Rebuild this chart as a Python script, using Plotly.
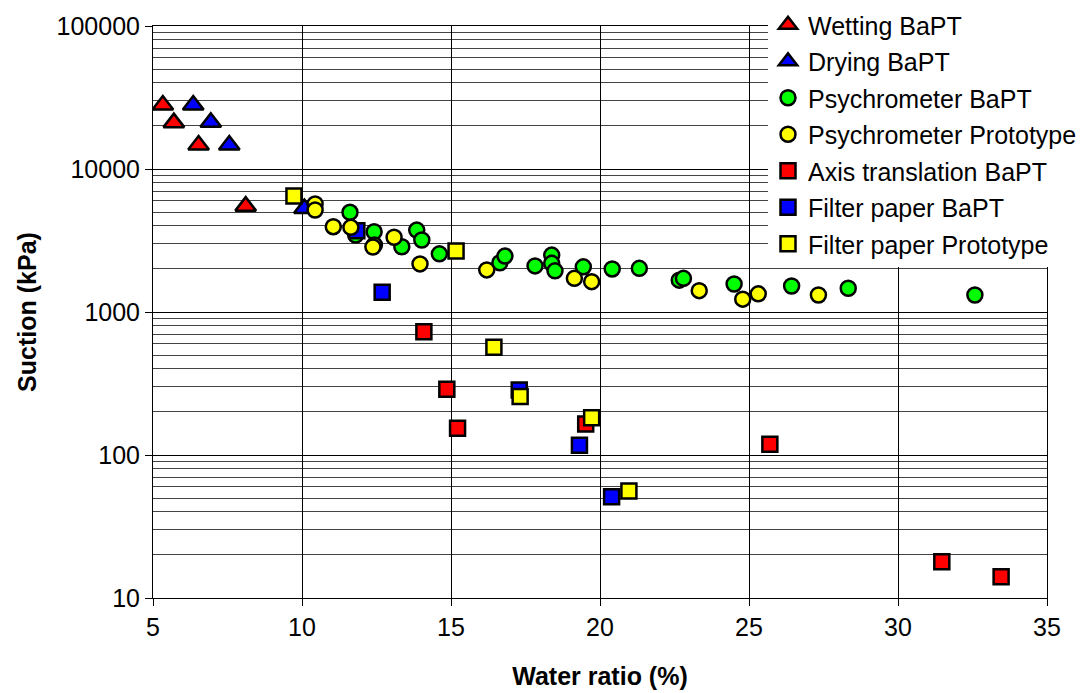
import plotly.graph_objects as go

# Suction (kPa) against water ratio (%) for each measurement method

wetting_x = [5.33, 5.70, 6.53, 8.11]
wetting_y = [28000, 21100, 14700, 5500]

drying_x = [6.35, 6.94, 7.56, 10.08]
drying_y = [28000, 21200, 14700, 5300]

psy_bapt_x = [11.61, 11.80, 12.42, 13.35, 13.85, 14.02, 14.61, 16.64, 16.81,
              17.82, 18.38, 18.38, 18.49, 19.44, 20.41, 21.32, 22.66, 22.80,
              24.50, 26.43, 28.33, 32.58]
psy_bapt_y = [4980, 3450, 3640, 2860, 3740, 3190, 2550, 2210, 2460,
              2100, 2500, 2190, 1940, 2070, 2000, 2020, 1670, 1720,
              1570, 1520, 1465, 1315]

psy_proto_x = [10.44, 10.44, 11.05, 11.64, 12.43, 12.38, 13.09, 13.96, 16.20,
               19.14, 19.72, 23.33, 24.79, 25.31, 27.33]
psy_proto_y = [5690, 5170, 3950, 3910, 2940, 2850, 3330, 2170, 1970,
               1720, 1630, 1410, 1230, 1340, 1315]

axis_x = [14.09, 14.86, 15.22, 19.52, 25.70, 31.47, 33.46]
axis_y = [728, 288, 154, 165, 119, 17.9, 14.1]

fp_bapt_x = [11.84, 12.69, 17.29, 19.31, 20.39]
fp_bapt_y = [3700, 1374, 285, 117, 51]

fp_proto_x = [9.73, 15.17, 16.44, 17.32, 19.72, 20.97]
fp_proto_y = [6480, 2670, 566, 256, 182, 56]

y_tick_vals = [10, 100, 1000, 10000, 100000]
y_tick_text = ["10", "100", "1000", "10000", "100000"]
x_tick_vals = [5, 10, 15, 20, 25, 30, 35]

FONT = "Liberation Sans, Arial, sans-serif"
OUTLINE = dict(color="black", width=2.5)

# (name, x, y, symbol, colour, size, legend position); listed in drawing order
series = [
    ("Wetting BaPT", wetting_x, wetting_y, "triangle-up", "#ff0000", 18, 1),
    ("Drying BaPT", drying_x, drying_y, "triangle-up", "#0000ff", 18, 2),
    ("Psychrometer BaPT", psy_bapt_x, psy_bapt_y, "circle", "#00ff00", 15, 3),
    ("Axis translation BaPT", axis_x, axis_y, "square", "#ff0000", 15, 5),
    ("Filter paper BaPT", fp_bapt_x, fp_bapt_y, "square", "#0000ff", 15, 6),
    ("Psychrometer Prototype", psy_proto_x, psy_proto_y, "circle", "#ffff00", 15, 4),
    ("Filter paper Prototype", fp_proto_x, fp_proto_y, "square", "#ffff00", 15, 7),
]

fig = go.Figure()
for name, xs, ys, sym, col, size, rank in series:
    fig.add_trace(go.Scatter(
        x=xs, y=ys, mode="markers", name=name,
        legendgroup=name, legendrank=rank,
        marker=dict(symbol=sym, color=col, size=size, line=OUTLINE),
    ))

fig.update_layout(
    width=1088, height=693,
    margin=dict(l=153, r=41, t=26, b=95, autoexpand=False),
    paper_bgcolor="white", plot_bgcolor="white",
    font=dict(family=FONT, size=25, color="black"),
    legend=dict(
        x=768 / 1088, xref="container", xanchor="left",
        y=1 - 2 / 693, yref="container", yanchor="top",
        bgcolor="white", borderwidth=0,
        font=dict(size=25, family=FONT),
        tracegroupgap=1,
        itemsizing="trace",
    ),
    showlegend=True,
)

fig.update_xaxes(
    range=[5, 35], tickvals=x_tick_vals,
    showgrid=True, gridcolor="black", gridwidth=1,
    showline=True, linecolor="black", linewidth=1, mirror=True,
    ticks="outside", ticklen=7, tickcolor="black",
    zeroline=False,
    title=dict(text="<b>Water ratio (%)</b>", font=dict(size=25), standoff=27),
)

fig.update_yaxes(
    type="log", range=[1, 5],
    tickvals=y_tick_vals, ticktext=y_tick_text,
    showgrid=True, gridcolor="black", gridwidth=1,
    minor=dict(dtick="D1", showgrid=True, gridcolor="#444444", gridwidth=1, ticks=""),
    showline=True, linecolor="black", linewidth=1, mirror=True,
    ticks="outside", ticklen=7, tickcolor="black",
    zeroline=False,
    title=dict(text="<b>Suction (kPa)</b>", font=dict(size=25), standoff=12),
)

fig.write_html("out.html")
